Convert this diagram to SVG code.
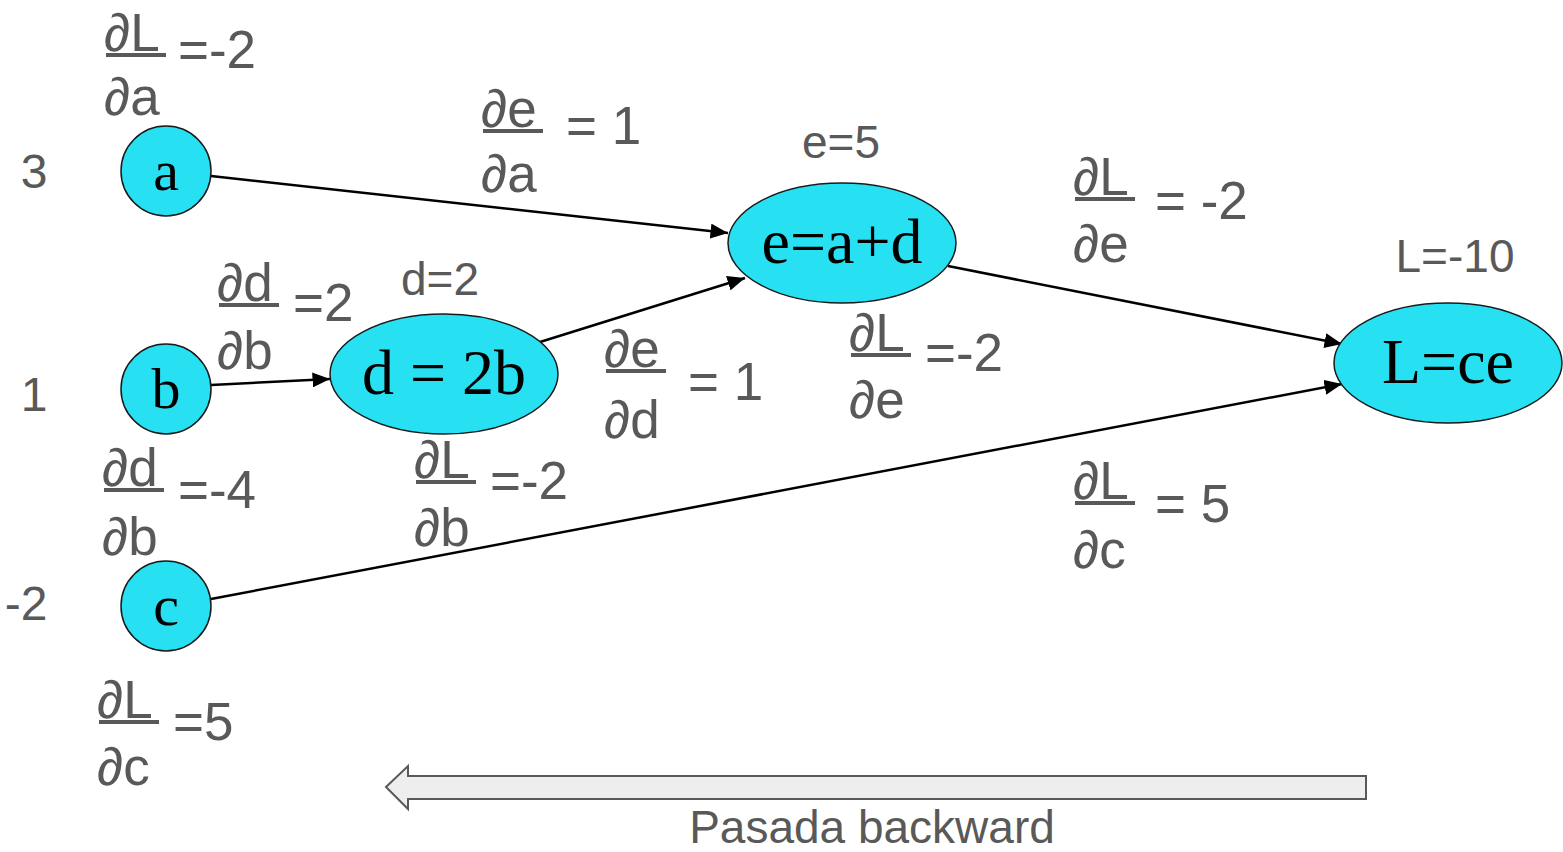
<svg xmlns="http://www.w3.org/2000/svg" width="1563" height="852" viewBox="0 0 1563 852">
<defs>
<style>
.nd{fill:#27e0f2;stroke:#1a1a1a;stroke-width:1.5}
.nt{font-family:"Liberation Serif",serif;fill:#000;text-anchor:middle}
.g{font-family:"Liberation Sans",Arial,sans-serif;fill:#595959;font-size:48px}
.f{font-family:"Liberation Sans",Arial,sans-serif;fill:#595959;font-size:53px}
.s{font-family:"Liberation Sans",Arial,sans-serif;fill:#595959;font-size:46px}
.fl{stroke:#595959;stroke-width:4}
.ed{stroke:#000;stroke-width:2.5;fill:none}
</style>
<marker id="ah" viewBox="0 0 10 10" refX="10" refY="5" markerWidth="7" markerHeight="6" markerUnits="strokeWidth" orient="auto" preserveAspectRatio="none">
<path d="M0,0 L10,5 L0,10 z" fill="#000"/>
</marker>
</defs>
<rect width="1563" height="852" fill="#fff"/>
<g id="connectors">
<line class="ed" x1="211" y1="176" x2="728" y2="233" marker-end="url(#ah)"/>
<line class="ed" x1="211" y1="385" x2="330" y2="379" marker-end="url(#ah)"/>
<line class="ed" x1="540" y1="342" x2="745" y2="278" marker-end="url(#ah)"/>
<line class="ed" x1="948" y1="266" x2="1342" y2="344" marker-end="url(#ah)"/>
<line class="ed" x1="211" y1="599" x2="1342" y2="384" marker-end="url(#ah)"/>
</g>
<g id="node-a"><circle class="nd" cx="166" cy="171" r="45"/><text class="nt" x="166" y="190" font-size="58">a</text></g>
<g id="node-b"><circle class="nd" cx="166" cy="389" r="45"/><text class="nt" x="166" y="408" font-size="58">b</text></g>
<g id="node-c"><circle class="nd" cx="166" cy="606" r="45"/><text class="nt" x="166" y="625" font-size="58">c</text></g>
<g id="node-d"><ellipse class="nd" cx="444" cy="374" rx="114" ry="60"/><text class="nt" x="444" y="394" font-size="64">d = 2b</text></g>
<g id="node-e"><ellipse class="nd" cx="842" cy="243" rx="114" ry="60"/><text class="nt" x="842" y="263" font-size="64">e=a+d</text></g>
<g id="node-L"><ellipse class="nd" cx="1448" cy="363" rx="114" ry="60"/><text class="nt" x="1448" y="383" font-size="64">L=ce</text></g>
<g id="values">
<text class="g" x="34" y="188" text-anchor="middle">3</text>
<text class="g" x="34" y="411" text-anchor="middle">1</text>
<text class="g" x="26" y="620" text-anchor="middle">-2</text>
<text class="s" x="841" y="158" text-anchor="middle">e=5</text>
<text class="s" x="440" y="295" text-anchor="middle">d=2</text>
<text class="s" x="1455" y="272" text-anchor="middle">L=-10</text>
</g>
<g id="grad-a">
<text class="f" x="104" y="51">∂L</text><line class="fl" x1="106" y1="55" x2="166" y2="55"/><text class="f" x="104" y="115">∂a</text><text class="f" x="178" y="68">=-2</text>
</g>
<g id="grad-ea">
<text class="f" x="481" y="127">∂e</text><line class="fl" x1="483" y1="131" x2="543" y2="131"/><text class="f" x="481" y="192">∂a</text><text class="f" x="566" y="144">= 1</text>
</g>
<g id="grad-Le-top">
<text class="f" x="1073" y="195">∂L</text><line class="fl" x1="1075" y1="199" x2="1135" y2="199"/><text class="f" x="1073" y="262">∂e</text><text class="f" x="1155" y="219">= -2</text>
</g>
<g id="grad-db-top">
<text class="f" x="217" y="301">∂d</text><line class="fl" x1="219" y1="305" x2="279" y2="305"/><text class="f" x="217" y="369">∂b</text><text class="f" x="293" y="321">=2</text>
</g>
<g id="grad-ed">
<text class="f" x="604" y="367">∂e</text><line class="fl" x1="606" y1="371" x2="666" y2="371"/><text class="f" x="604" y="438">∂d</text><text class="f" x="688" y="400">= 1</text>
</g>
<g id="grad-Le-mid">
<text class="f" x="849" y="351">∂L</text><line class="fl" x1="851" y1="355" x2="911" y2="355"/><text class="f" x="849" y="418">∂e</text><text class="f" x="925" y="371">=-2</text>
</g>
<g id="grad-db-low">
<text class="f" x="102" y="486">∂d</text><line class="fl" x1="104" y1="490" x2="164" y2="490"/><text class="f" x="102" y="555">∂b</text><text class="f" x="178" y="508">=-4</text>
</g>
<g id="grad-Lb">
<text class="f" x="414" y="478">∂L</text><line class="fl" x1="416" y1="482" x2="476" y2="482"/><text class="f" x="414" y="546">∂b</text><text class="f" x="490" y="499">=-2</text>
</g>
<g id="grad-Lc-right">
<text class="f" x="1073" y="499">∂L</text><line class="fl" x1="1075" y1="503" x2="1135" y2="503"/><text class="f" x="1073" y="568">∂c</text><text class="f" x="1155" y="522">= 5</text>
</g>
<g id="grad-Lc-left">
<text class="f" x="97" y="718">∂L</text><line class="fl" x1="99" y1="722" x2="159" y2="722"/><text class="f" x="97" y="785">∂c</text><text class="f" x="173" y="740">=5</text>
</g>
<g id="backward">
<polygon points="386,787 408,766 408,776 1366,776 1366,799 408,799 408,809" fill="#eeeeee" stroke="#595959" stroke-width="2"/>
<text class="s" x="872" y="843" text-anchor="middle">Pasada backward</text>
</g>
</svg>
